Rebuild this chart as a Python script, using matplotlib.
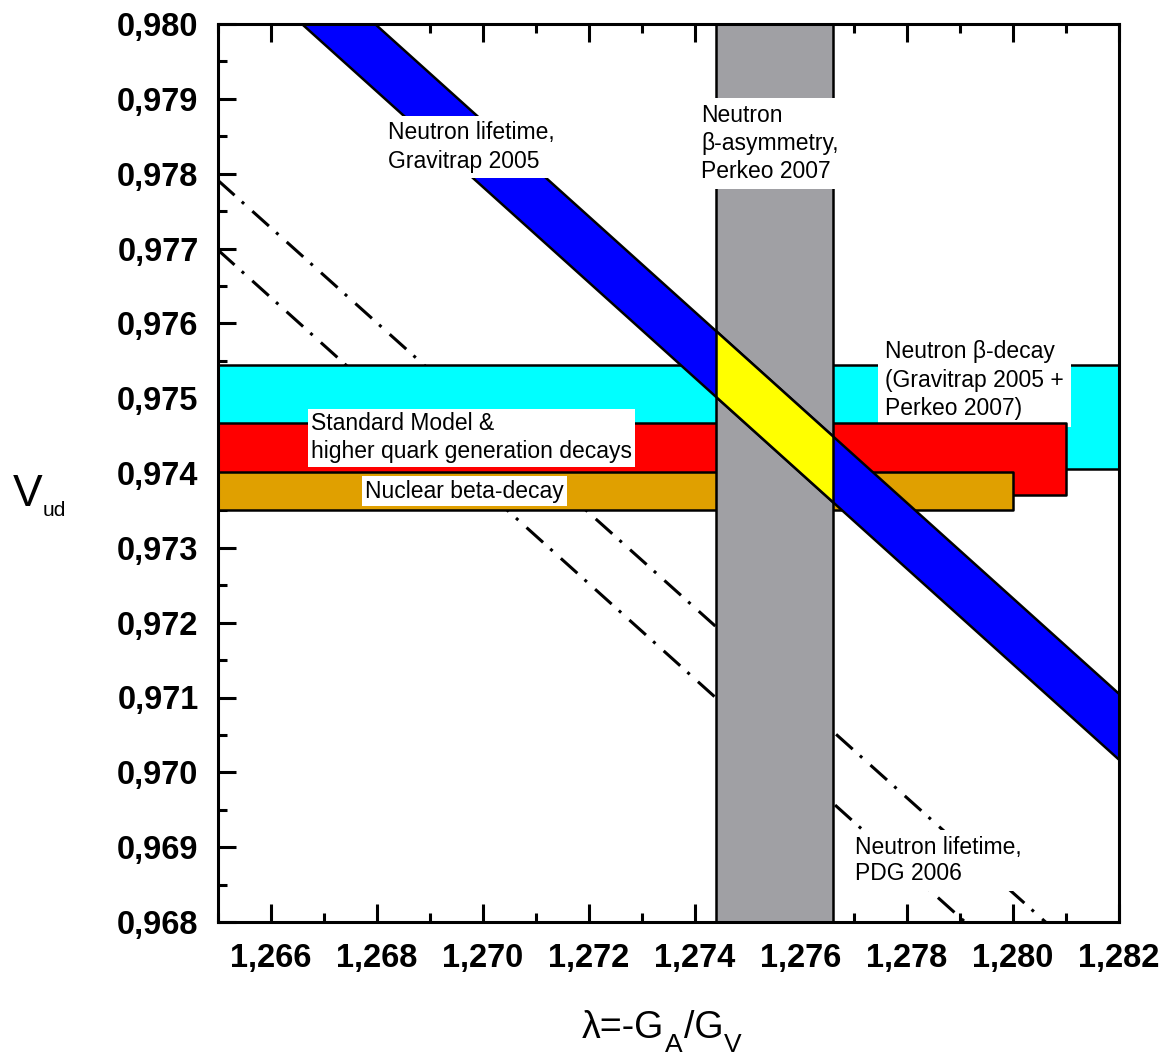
import matplotlib
matplotlib.use("Agg")
import matplotlib.pyplot as plt
from matplotlib.patches import Rectangle
from matplotlib.ticker import MultipleLocator, FuncFormatter

plt.rcParams['font.family'] = ['Liberation Sans', 'DejaVu Sans']
plt.rcParams['lines.scale_dashes'] = False

# ---------------- data ----------------
lambda_limits = [1.265, 1.282]
vud_limits = [0.968, 0.980]

# Neutron lifetime, Gravitrap 2005 band (edge values at the lambda ends)
grav_lambda = [1.265, 1.282]
grav_upper = [0.98189, 0.97105]
grav_lower = [0.98101, 0.97017]

# Neutron lifetime, PDG 2006 (dash-dot lines)
pdg_lambda = [1.265, 1.282]
pdg_upper = [0.97791, 0.96712]
pdg_lower = [0.97698, 0.96615]

# Neutron beta-asymmetry, Perkeo 2007 (lambda range)
perkeo_lambda = [1.2744, 1.2766]

# Horizontal bands
beta_decay_lambda = [1.265, 1.282]     # Neutron beta-decay (Gravitrap 2005 + Perkeo 2007)
beta_decay_vud = [0.97405, 0.97544]
sm_lambda = [1.265, 1.281]             # Standard Model & higher quark generation decays
sm_vud = [0.97370, 0.97467]
nuclear_lambda = [1.265, 1.280]        # Nuclear beta-decay
nuclear_vud = [0.97350, 0.97401]

# ---------------- figure ----------------
W, H = 1162, 1055
fig = plt.figure(figsize=(W / 100, H / 100), dpi=100)
ax = fig.add_axes([218 / W, 1 - 922 / H, 901 / W, 898 / H])
ax.set_xlim(*lambda_limits)
ax.set_ylim(*vud_limits)

edge_lw = 1.8
# PDG lines (lowest)
dash = (16, 7, 2.2, 8)
ax.plot(pdg_lambda, pdg_upper, color='k', lw=2.2, dashes=dash, zorder=1.5,
        solid_capstyle='butt', dash_capstyle='butt')
ax.plot(pdg_lambda, pdg_lower, color='k', lw=2.2, dashes=dash, zorder=1.5,
        solid_capstyle='butt', dash_capstyle='butt')

# horizontal bands
ax.fill_between(beta_decay_lambda, beta_decay_vud[0], beta_decay_vud[1],
                facecolor='#00FFFF', edgecolor='k', lw=edge_lw, zorder=2)
ax.fill_between(sm_lambda, sm_vud[0], sm_vud[1],
                facecolor='#FF0000', edgecolor='k', lw=edge_lw, zorder=3)
ax.fill_between(nuclear_lambda, nuclear_vud[0], nuclear_vud[1],
                facecolor='#E0A000', edgecolor='k', lw=edge_lw, zorder=3.3)

# Perkeo gray band
ax.axvspan(perkeo_lambda[0], perkeo_lambda[1], facecolor='#A0A0A4',
           edgecolor='none', zorder=4)

# Gravitrap lifetime band
ax.fill_between(grav_lambda, grav_lower, grav_upper, facecolor='#0000FF',
                edgecolor='k', lw=edge_lw, zorder=5)
# overlap (yellow) = same band clipped to the Perkeo range
yel = ax.fill_between(grav_lambda, grav_lower, grav_upper, facecolor='#FFFF00',
                      edgecolor='k', lw=edge_lw, zorder=6)
clip_rect = Rectangle((perkeo_lambda[0], vud_limits[0]),
                      perkeo_lambda[1] - perkeo_lambda[0],
                      vud_limits[1] - vud_limits[0], transform=ax.transData)
yel.set_clip_path(clip_rect)

for xv in perkeo_lambda:
    ax.axvline(xv, color='k', lw=edge_lw, zorder=7)

# ---------------- labels ----------------
fs = 16.5
def label(x, y, s, z, pad=0.25, ls=1.3):
    ax.text(x, y, s, fontsize=fs, ha='left', va='center', zorder=z,
            linespacing=ls,
            bbox=dict(boxstyle='square,pad=%g' % pad, facecolor='white',
                      edgecolor='none'))

label(1.268208, 0.978356, "Neutron lifetime,\nGravitrap 2005", 8)
label(1.274113, 0.978402, "Neutron\nβ-asymmetry,\nPerkeo 2007", 8)
label(1.277585, 0.975241, "Neutron β-decay\n(Gravitrap 2005 +\nPerkeo 2007)", 2.5, pad=0.3)
label(1.266755, 0.974472, "Standard Model &\nhigher quark generation decays", 3.6, pad=0.15)
label(1.267774, 0.973757, "Nuclear beta-decay", 3.6, pad=0.15)
label(1.277019, 0.968824, "Neutron lifetime,\nPDG 2006", 8, ls=1.2)

# ---------------- axes styling ----------------
for side in ['left', 'right', 'top', 'bottom']:
    ax.spines[side].set_linewidth(2.2)
    ax.spines[side].set_zorder(10)

ax.xaxis.set_minor_locator(MultipleLocator(0.001))
ax.yaxis.set_major_locator(MultipleLocator(0.001))
ax.yaxis.set_minor_locator(MultipleLocator(0.0005))
ax.set_xticks([1.266 + 0.002 * i for i in range(9)])
fmt = FuncFormatter(lambda v, p: ("%.3f" % v).replace('.', ','))
ax.xaxis.set_major_formatter(fmt)
ax.yaxis.set_major_formatter(fmt)

ax.tick_params(axis='both', which='both', direction='in', width=2.2,
               top=True, right=False)
ax.tick_params(which='major', length=13)
ax.tick_params(which='minor', length=6.5)
ax.tick_params(axis='x', pad=15)
ax.tick_params(axis='y', pad=14)
for t in ax.get_xticklabels() + ax.get_yticklabels():
    t.set_fontsize(23.5)
    t.set_fontweight('bold')

# y-axis label V_ud
fig.text(13 / W, 1 - 506 / H, "V", fontsize=32, va='baseline', ha='left')
fig.text(43 / W, 1 - 516 / H, "ud", fontsize=15, va='baseline', ha='left')

# x-axis label  λ=-G_A/G_V  built piece by piece
fig.canvas.draw()
r = fig.canvas.get_renderer()
base_y = 1038
sub_y = 1052
x0 = 582
pieces = [("λ=-G", 27, base_y), ("A", 19, sub_y), ("/G", 27, base_y), ("V", 19, sub_y)]
for s, size, yb in pieces:
    t = fig.text(x0 / W, 1 - yb / H, s, fontsize=size, va='baseline', ha='left')
    bb = t.get_window_extent(r)
    x0 = bb.x1 + 1

fig.savefig("out.png", dpi=100)
